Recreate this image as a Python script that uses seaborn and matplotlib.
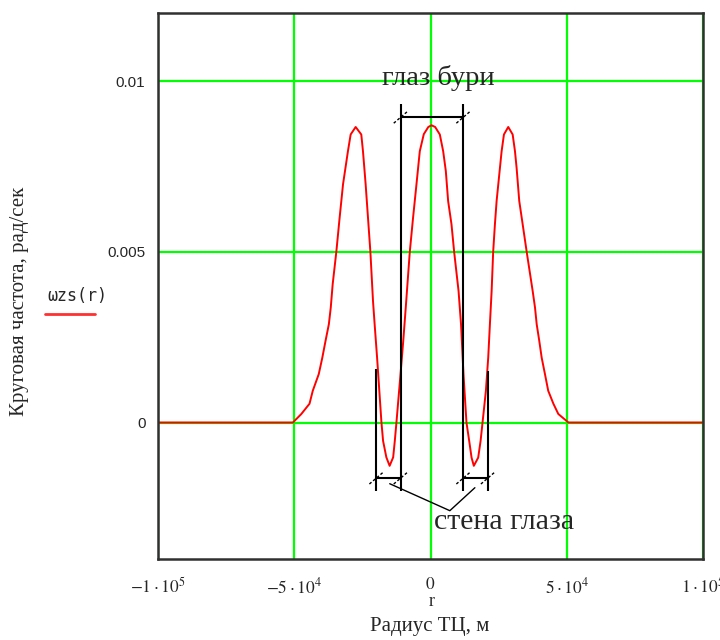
import matplotlib
matplotlib.use("Agg")
import matplotlib.pyplot as plt
import seaborn as sns
import pandas as pd
from matplotlib.lines import Line2D

# ---- data ----
r_m = [-100000, -50500, -47400, -44400, -43200, -41000, -39700, -38500, -37300,
       -36600, -35900, -34560, -33350, -32100, -30300, -29300, -27460, -25400,
       -24780, -23800, -22060, -21100, -20500, -19600, -18000, -17400, -16200,
       -15000, -13700, -13100, -12500, -11000, -10000, -9080, -7600, -6400,
       -5150, -3930, -2460, -800, 370, 1700, 3420, 4650, 5620, 6470, 7700, 8680,
       10300, 11200, 11500, 12100, 13200, 14200, 15070, 15900, 16700, 17500,
       18380, 19100, 20330, 21180, 21800, 22430, 23000, 23640, 24260, 25480,
       26100, 26950, 28530, 30150, 31000, 31600, 32570, 33820, 35300,
       37500, 38350, 38970, 39900, 40800, 42000, 43200, 45100, 46900, 50600,
       100000]
omega = [0.0, 0.0, 0.00025, 0.00055, 0.00093, 0.00142, 0.0019, 0.0024, 0.00288,
         0.00337, 0.00405, 0.0050, 0.0060, 0.00698, 0.00795, 0.00844, 0.00866, 0.00844,
         0.00795, 0.00698, 0.0050, 0.00356, 0.00288, 0.0019, 0.0, -0.00054, -0.00102,
         -0.00127, -0.00102, -0.00054, 0.0, 0.00142, 0.00239, 0.00337, 0.0050, 0.0060,
         0.00698, 0.00795, 0.00845, 0.00866, 0.00871, 0.00866, 0.00844, 0.00795, 0.00737, 0.00649, 0.00581, 0.0050,
         0.00385, 0.00288, 0.0024, 0.00142, 0.0, -0.00054, -0.00103, -0.00127, -0.00115, -0.00103,
         -0.00054, 0.0, 0.00093, 0.0019, 0.00288, 0.00385, 0.0050, 0.00581, 0.00649, 0.00746,
         0.00795, 0.00844, 0.00866, 0.00844, 0.00795, 0.00746, 0.00649, 0.00581, 0.0050,
         0.00385, 0.00337, 0.00288, 0.0024, 0.0019, 0.00142, 0.00093, 0.00055, 0.00025, 0.0,
         0.0]

x_ticks = [-100000, -50000, 0, 50000, 100000]
x_tick_labels = [r"$-1\cdot10^{5}$", r"$-5\cdot10^{4}$", r"$0$", r"$5\cdot10^{4}$", r"$1\cdot10^{5}$"]
y_ticks = [0, 0.005, 0.01]
y_tick_labels = ["0", "0.005", "0.01"]

sns.set_theme(style="white")
plt.rcParams["font.family"] = ["Liberation Serif", "DejaVu Serif"]
plt.rcParams["mathtext.fontset"] = "stix"

df = pd.DataFrame({"r": r_m, "omega": omega})

fig = plt.figure(figsize=(7.2, 6.4), dpi=100)
ax = fig.add_axes([158 / 720, 1 - 559 / 640, (703 - 158) / 720, (559 - 13) / 640])

sns.lineplot(data=df, x="r", y="omega", color="#ff0000", lw=1.4, ax=ax,
             estimator=None, sort=False, zorder=3)

ax.set_xlim(-100000, 100000)
ax.set_ylim(-0.004, 0.012)
ax.set_xticks(x_ticks)
ax.set_xticklabels(x_tick_labels, fontsize=12.5)
ax.set_yticks(y_ticks)
ax.set_yticklabels(y_tick_labels, fontsize=11, family="Liberation Sans")
ax.tick_params(axis="both", length=0)
ax.tick_params(axis="x", pad=13)
ax.tick_params(axis="y", pad=9)
ax.grid(True, color="#00ff00", lw=1.6, zorder=1)
ax.set_axisbelow(True)
ax.set_xlabel("")
ax.set_ylabel("")
for s in ax.spines.values():
    s.set_color("#303030")
    s.set_linewidth(1.8)
    s.set_zorder(5)

# ---- annotations (pixel -> data helpers) ----
def X(px):
    return (px - 430.7) / 0.00272

def Y(py):
    return (421.7 - py) / 34170.0

kw = dict(color="black", lw=1.5, zorder=4, solid_capstyle="butt")
# eye bracket
ax.plot([X(401), X(401)], [Y(103), Y(490)], **kw)
ax.plot([X(463.5), X(463.5)], [Y(103), Y(490)], **kw)
ax.plot([X(401), X(463.5)], [Y(116), Y(116)], **kw)
# wall brackets
ax.plot([X(376.7), X(376.7)], [Y(368), Y(490)], **kw)
ax.plot([X(488), X(488)], [Y(370), Y(490)], **kw)
ax.plot([X(376.7), X(401)], [Y(477.3), Y(477.3)], **kw)
ax.plot([X(463.5), X(488)], [Y(477.3), Y(477.3)], **kw)
# slash ticks
tk = dict(color="black", lw=1.0, zorder=4, ls=(0, (2, 1.5)))
for (px, py) in [(401, 116), (463.5, 116), (376.7, 477.3), (401, 477.3),
                 (463.5, 477.3), (488, 477.3)]:
    ax.plot([X(px - 7), X(px + 7)], [Y(py + 6), Y(py - 6)], **tk)
# leader lines
ax.plot([X(390), X(450), X(475)], [Y(483), Y(510), Y(487)], color="black", lw=1.0, zorder=4)

ax.text(X(438.5), Y(77), "глаз бури", fontsize=20.5, ha="center", va="center", zorder=6)
ax.text(X(434), Y(521), "стена глаза", fontsize=21.5, ha="left", va="center", zorder=6)

# ---- axis titles and legend ----
fig.text(20 / 720, 1 - 301 / 640, "Круговая частота, рад/сек", rotation=90,
         fontsize=15, ha="center", va="center")
fig.text(432 / 720, 1 - 601 / 640, "r", fontsize=13, ha="center", va="center")
fig.text(430 / 720, 1 - 627 / 640, "Радиус ТЦ, м", fontsize=15, ha="center", va="center")
fig.text(77 / 720, 1 - 296 / 640, "ωzs(r)", fontsize=12, ha="center", va="center",
         family=["DejaVu Sans Mono", "DejaVu Sans"])
fig.add_artist(Line2D([45 / 720, 95 / 720], [1 - 314 / 640, 1 - 314 / 640],
                      color="#ff3030", lw=2.0))

fig.savefig("out.png", dpi=100)
